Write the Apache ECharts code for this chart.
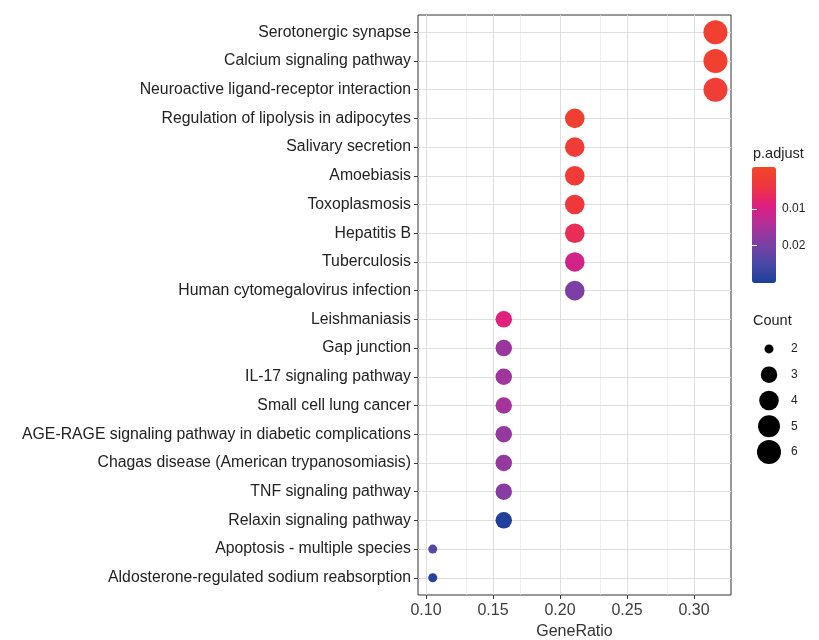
<!DOCTYPE html>
<html>
<head>
<meta charset="utf-8">
<script src="https://cdn.jsdelivr.net/npm/echarts@6/dist/echarts.min.js"></script>
<style>
    html, body { margin: 0; padding: 0; background: #fff; }
    #chart { width: 819px; height: 640px; }
</style>
</head>
<body>
<div id="chart"></div>
<script>
// pathways, top to bottom as drawn
const pathways = [
    'Serotonergic synapse',
    'Calcium signaling pathway',
    'Neuroactive ligand-receptor interaction',
    'Regulation of lipolysis in adipocytes',
    'Salivary secretion',
    'Amoebiasis',
    'Toxoplasmosis',
    'Hepatitis B',
    'Tuberculosis',
    'Human cytomegalovirus infection',
    'Leishmaniasis',
    'Gap junction',
    'IL-17 signaling pathway',
    'Small cell lung cancer',
    'AGE-RAGE signaling pathway in diabetic complications',
    'Chagas disease (American trypanosomiasis)',
    'TNF signaling pathway',
    'Relaxin signaling pathway',
    'Apoptosis - multiple species',
    'Aldosterone-regulated sodium reabsorption',
];
const geneRatio = [0.316, 0.316, 0.316, 0.211, 0.211, 0.211, 0.211, 0.211, 0.211, 0.211,
    0.158, 0.158, 0.158, 0.158, 0.158, 0.158, 0.158, 0.158, 0.105, 0.105];
const counts = [6, 6, 6, 4, 4, 4, 4, 4, 4, 4, 3, 3, 3, 3, 3, 3, 3, 3, 2, 2];
const pAdjust = [0.0004, 0.0004, 0.0014, 0.0008, 0.0018, 0.0018, 0.0028, 0.0058, 0.0108, 0.0195,
    0.0088, 0.0165, 0.0160, 0.0155, 0.0172, 0.0172, 0.0185, 0.0295, 0.0235, 0.0285];

const countLevels = [2, 3, 4, 5, 6];
const xTicks = [0.10, 0.15, 0.20, 0.25, 0.30];
const xMinorTicks = [0.125, 0.175, 0.225, 0.275, 0.325];
const pTicks = [0.01, 0.02];
// colour bar extent as drawn (0.01 and 0.02 sit at 36% and 68% of its height)
const pRange = [-0.0014, 0.0302];

const FONT = '"Liberation Sans", Arial, sans-serif';
const n = pathways.length;
const yPositions = pathways.map((_, i) => n - i);

// ggplot area scale: diameter grows with sqrt of the rescaled count
function sizeOf(count) {
    const t = (count - 2) / 4;
    return 9 + 15 * Math.sqrt(Math.max(t, 0));
}

const mainData = pathways.map((name, i) => [geneRatio[i], yPositions[i], pAdjust[i], counts[i], name]);

const majorStyle = { color: '#DEDEDE', width: 1, type: 'solid' };
const minorStyle = { color: '#E8E8E8', width: 0.7, type: 'solid' };
const gridLines = [];
xTicks.forEach(v => gridLines.push({ xAxis: v, lineStyle: majorStyle }));
xMinorTicks.forEach(v => gridLines.push({ xAxis: v, lineStyle: minorStyle }));
yPositions.forEach(v => gridLines.push({ yAxis: v, lineStyle: majorStyle }));

const chart = echarts.init(document.getElementById('chart'));
chart.setOption({
    animation: false,
    backgroundColor: '#fff',
    textStyle: { fontFamily: FONT },
    grid: [
        {
            left: 418, top: 15, width: 313, height: 580, outerBoundsMode: 'none',
            show: true, borderColor: '#333', borderWidth: 1, backgroundColor: '#fff',
        },
        // Count legend keys
        { left: 757, top: 336, width: 24, height: 129, outerBoundsMode: 'none' },
        // p.adjust colour bar axis
        { left: 752, top: 167, width: 24, height: 116, outerBoundsMode: 'none' },
    ],
    xAxis: [
        {
            gridIndex: 0,
            type: 'value',
            min: 0.094,
            max: 0.3276,
            name: 'GeneRatio',
            nameLocation: 'middle',
            nameGap: 29,
            nameTextStyle: { fontSize: 16, color: '#333', fontFamily: FONT },
            axisLine: { show: false },
            axisTick: { show: true, customValues: xTicks, length: 4, lineStyle: { color: '#333' } },
            axisLabel: {
                customValues: xTicks,
                formatter: v => v.toFixed(2),
                fontSize: 16,
                color: '#3d3d3d',
                margin: 8,
                fontFamily: FONT,
            },
            splitLine: { show: false },
        },
        { gridIndex: 1, type: 'category', data: [''], show: false },
        { gridIndex: 2, type: 'value', show: false },
    ],
    yAxis: [
        {
            gridIndex: 0,
            type: 'value',
            min: 0.4,
            max: 20.6,
            axisLine: { show: false },
            axisTick: { show: true, customValues: yPositions, length: 4, lineStyle: { color: '#333' } },
            axisLabel: {
                customValues: yPositions,
                formatter: v => pathways[n - Math.round(v)],
                fontSize: 15.8,
                color: '#222',
                margin: 7,
                fontFamily: FONT,
            },
            splitLine: { show: false },
        },
        {
            gridIndex: 1,
            type: 'category',
            inverse: true,
            position: 'right',
            data: countLevels.map(String),
            axisLine: { show: false },
            axisTick: { show: false },
            axisLabel: { fontSize: 12, color: '#222', margin: 10, fontFamily: FONT },
            splitLine: { show: false },
        },
        {
            gridIndex: 2,
            type: 'value',
            position: 'right',
            inverse: true,
            min: pRange[0],
            max: pRange[1],
            z: 10,
            axisLine: { show: false },
            axisTick: { show: true, inside: true, customValues: pTicks, length: 5, lineStyle: { color: '#fff', width: 1 } },
            axisLabel: { customValues: pTicks, formatter: v => v.toFixed(2), fontSize: 12, color: '#222', margin: 6, fontFamily: FONT },
            splitLine: { show: false },
        },
        {
            gridIndex: 2,
            type: 'value',
            position: 'left',
            inverse: true,
            min: pRange[0],
            max: pRange[1],
            z: 10,
            axisLine: { show: false },
            axisTick: { show: true, inside: true, customValues: pTicks, length: 5, lineStyle: { color: '#fff', width: 1 } },
            axisLabel: { show: false },
            splitLine: { show: false },
        },
    ],
    visualMap: {
        type: 'continuous',
        seriesIndex: 1,
        dimension: 2,
        min: pRange[0],
        max: pRange[1],
        inverse: true,
        calculable: false,
        orient: 'vertical',
        left: 752,
        top: 167,
        padding: 0,
        itemWidth: 24,
        itemHeight: 116,
        text: null,
        z: 2,
        inRange: {
            color: ['#F24628', '#EE3540', '#E01E80', '#B0309A', '#7A40A5', '#4A48A5', '#1A3F9A'],
        },
    },
    graphic: [
        { type: 'text', left: 753, top: 146, style: { text: 'p.adjust', fill: '#222', font: '14.5px ' + FONT } },
        { type: 'text', left: 753, top: 313, style: { text: 'Count', fill: '#222', font: '14.5px ' + FONT } },
    ],
    series: [
        {
            // panel grid lines
            type: 'line',
            xAxisIndex: 0,
            yAxisIndex: 0,
            data: [],
            z: 1,
            silent: true,
            markLine: {
                silent: true,
                z: 1,
                symbol: ['none', 'none'],
                label: { show: false },
                emphasis: { disabled: true },
                data: gridLines,
            },
        },
        {
            type: 'scatter',
            xAxisIndex: 0,
            yAxisIndex: 0,
            z: 3,
            data: mainData,
            symbolSize: val => sizeOf(val[3]),
            itemStyle: { opacity: 1 },
        },
        {
            type: 'scatter',
            xAxisIndex: 1,
            yAxisIndex: 1,
            data: countLevels.map(c => ['', String(c), c]),
            symbolSize: val => sizeOf(val[2]),
            itemStyle: { color: '#000', opacity: 1 },
            silent: true,
        },
    ],
});
</script>
</body>
</html>
